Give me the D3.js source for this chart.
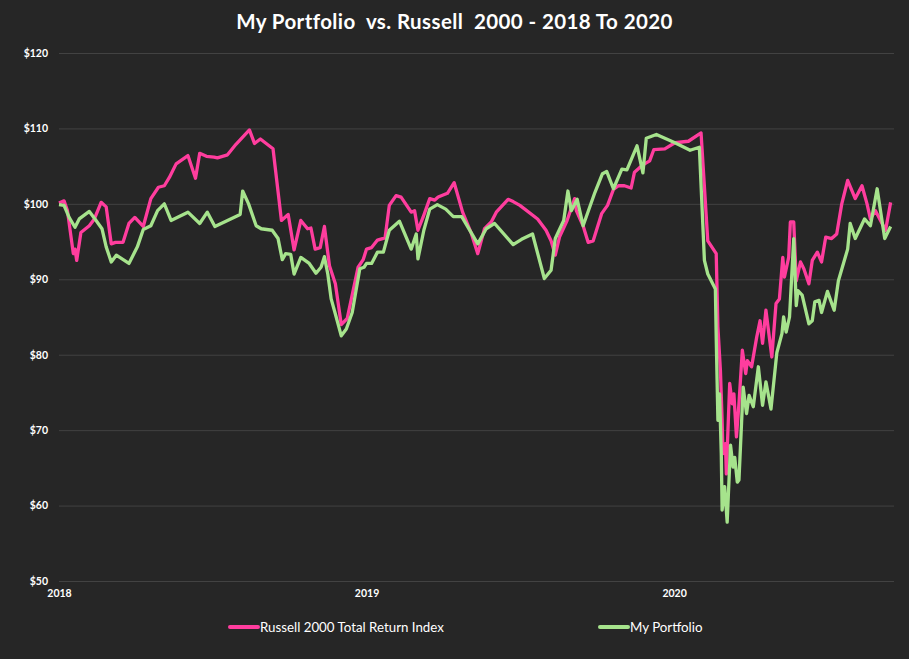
<!DOCTYPE html>
<html>
<head>
<meta charset="utf-8">
<script src="https://cdn.jsdelivr.net/npm/d3@7"></script>
<style>
  body { margin: 0; background: #262626; }
  text { font-family: Lato, "Open Sans", sans-serif; font-weight: bold; fill: #ffffff; }
</style>
</head>
<body>
<div id="chart"></div>
<script>
const SERIES_NAMES = ["Russell 2000 Total Return Index", "My Portfolio"];
const YEAR_TICKS = ["2018-01-01", "2019-01-01", "2020-01-01"];
const VALUE_TICKS = [50, 60, 70, 80, 90, 100, 110, 120];

const RUSSELL = [
  ["2018-01-01", 100.1], ["2018-01-07", 100.4], ["2018-01-11", 99.1], ["2018-01-18", 93.4],
  ["2018-01-20", 94.0], ["2018-01-22", 92.5], ["2018-01-27", 96.2], ["2018-02-06", 97.1],
  ["2018-02-12", 98.0], ["2018-02-20", 100.2], ["2018-02-26", 99.6], ["2018-03-04", 94.7],
  ["2018-03-09", 94.9], ["2018-03-18", 94.9], ["2018-03-25", 97.4], ["2018-04-01", 98.2],
  ["2018-04-11", 97.0], ["2018-04-20", 100.7], ["2018-04-29", 102.2], ["2018-05-06", 102.4],
  ["2018-05-12", 103.5], ["2018-05-20", 105.3], ["2018-06-03", 106.4], ["2018-06-12", 103.4],
  ["2018-06-17", 106.7], ["2018-06-25", 106.3], ["2018-07-04", 106.2], ["2018-07-08", 106.1],
  ["2018-07-20", 106.5], ["2018-07-30", 107.9], ["2018-08-15", 109.8], ["2018-08-21", 108.0],
  ["2018-08-28", 108.6], ["2018-09-12", 107.3], ["2018-09-22", 97.8], ["2018-09-30", 98.6],
  ["2018-10-07", 93.9], ["2018-10-15", 97.8], ["2018-10-23", 96.7], ["2018-10-27", 96.8],
  ["2018-11-01", 94.0], ["2018-11-07", 94.2], ["2018-11-12", 97.0], ["2018-11-18", 91.8],
  ["2018-11-25", 89.4], ["2018-12-02", 84.0], ["2018-12-09", 84.8], ["2018-12-22", 91.6],
  ["2018-12-28", 92.6], ["2019-01-01", 94.0], ["2019-01-07", 94.2], ["2019-01-14", 95.2],
  ["2019-01-23", 95.5], ["2019-01-28", 99.8], ["2019-02-05", 101.1], ["2019-02-11", 100.9],
  ["2019-02-23", 98.9], ["2019-02-27", 99.1], ["2019-03-03", 96.5], ["2019-03-09", 98.2],
  ["2019-03-17", 100.7], ["2019-03-23", 100.5], ["2019-03-27", 100.9], ["2019-04-07", 101.4],
  ["2019-04-15", 102.8], ["2019-04-25", 98.9], ["2019-05-05", 96.2], ["2019-05-13", 93.4],
  ["2019-05-21", 96.7], ["2019-05-29", 97.6], ["2019-06-04", 98.9], ["2019-06-18", 100.6],
  ["2019-06-24", 100.3], ["2019-07-02", 99.8], ["2019-07-23", 98.0], ["2019-08-02", 96.5],
  ["2019-08-08", 95.1], ["2019-08-13", 93.2], ["2019-08-18", 95.6], ["2019-08-27", 97.8],
  ["2019-09-05", 100.7], ["2019-09-07", 99.1], ["2019-09-15", 97.1], ["2019-09-21", 94.9],
  ["2019-09-27", 95.1], ["2019-10-07", 98.7], ["2019-10-14", 99.8], ["2019-10-21", 101.9],
  ["2019-10-27", 102.4], ["2019-11-03", 102.4], ["2019-11-11", 102.1], ["2019-11-15", 104.2],
  ["2019-11-21", 104.8], ["2019-11-27", 105.3], ["2019-12-03", 105.7], ["2019-12-08", 107.2],
  ["2019-12-21", 107.3], ["2020-01-02", 108.1], ["2020-01-18", 108.3], ["2020-02-02", 109.4],
  ["2020-02-10", 95.1], ["2020-02-20", 93.4], ["2020-02-22", 83.7], ["2020-02-25", 77.9],
  ["2020-02-27", 71.3], ["2020-02-28", 66.9], ["2020-03-02", 68.2], ["2020-03-03", 64.2],
  ["2020-03-07", 76.2], ["2020-03-10", 73.5], ["2020-03-12", 74.8], ["2020-03-15", 69.1],
  ["2020-03-18", 73.5], ["2020-03-22", 80.6], ["2020-03-26", 77.5], ["2020-03-28", 79.2],
  ["2020-04-02", 78.4], ["2020-04-08", 82.3], ["2020-04-12", 84.5], ["2020-04-15", 81.5],
  ["2020-04-19", 85.9], ["2020-04-26", 79.7], ["2020-05-01", 86.8], ["2020-05-05", 87.4],
  ["2020-05-09", 92.9], ["2020-05-11", 90.3], ["2020-05-16", 92.9], ["2020-05-18", 97.6],
  ["2020-05-22", 97.6], ["2020-05-25", 89.8], ["2020-05-30", 92.3], ["2020-06-03", 91.4],
  ["2020-06-09", 89.4], ["2020-06-13", 92.5], ["2020-06-19", 93.6], ["2020-06-24", 92.3],
  ["2020-06-29", 95.6], ["2020-07-06", 95.4], ["2020-07-12", 96.0], ["2020-07-18", 100.0],
  ["2020-07-25", 103.1], ["2020-08-03", 100.7], ["2020-08-11", 102.4], ["2020-08-17", 100.0],
  ["2020-08-21", 98.0], ["2020-08-27", 99.1], ["2020-09-08", 96.5], ["2020-09-14", 100.2]
];

const PORTFOLIO = [
  ["2018-01-01", 99.9], ["2018-01-07", 99.8], ["2018-01-13", 98.2], ["2018-01-20", 96.9],
  ["2018-01-25", 98.0], ["2018-02-06", 99.0], ["2018-02-14", 97.8], ["2018-02-21", 96.7],
  ["2018-02-26", 94.3], ["2018-03-04", 92.3], ["2018-03-10", 93.2], ["2018-03-25", 92.1],
  ["2018-04-04", 94.3], ["2018-04-11", 96.6], ["2018-04-20", 97.1], ["2018-04-28", 99.1],
  ["2018-05-06", 100.0], ["2018-05-14", 97.8], ["2018-06-03", 98.9], ["2018-06-17", 97.4],
  ["2018-06-26", 98.9], ["2018-07-05", 97.0], ["2018-08-04", 98.6], ["2018-08-07", 101.7],
  ["2018-08-14", 100.0], ["2018-08-23", 97.1], ["2018-08-29", 96.7], ["2018-09-11", 96.5],
  ["2018-09-18", 95.4], ["2018-09-23", 92.6], ["2018-09-27", 93.4], ["2018-10-03", 93.3],
  ["2018-10-07", 90.7], ["2018-10-15", 92.9], ["2018-10-25", 92.1], ["2018-11-02", 90.8],
  ["2018-11-08", 91.6], ["2018-11-12", 93.0], ["2018-11-16", 90.7], ["2018-11-20", 87.4],
  ["2018-11-25", 85.4], ["2018-12-02", 82.5], ["2018-12-08", 83.4], ["2018-12-15", 85.6],
  ["2018-12-24", 91.4], ["2018-12-29", 91.6], ["2019-01-01", 92.1], ["2019-01-07", 92.1],
  ["2019-01-14", 93.6], ["2019-01-21", 93.6], ["2019-01-28", 96.5], ["2019-02-09", 97.7],
  ["2019-02-23", 94.0], ["2019-03-01", 96.0], ["2019-03-03", 92.7], ["2019-03-10", 96.5],
  ["2019-03-17", 99.3], ["2019-03-26", 99.9], ["2019-04-05", 99.3], ["2019-04-14", 98.3],
  ["2019-04-24", 98.3], ["2019-05-13", 94.7], ["2019-05-23", 96.7], ["2019-06-02", 97.4],
  ["2019-06-24", 94.6], ["2019-07-04", 95.3], ["2019-07-17", 96.0], ["2019-07-31", 90.1],
  ["2019-08-08", 91.2], ["2019-08-13", 95.4], ["2019-08-23", 97.8], ["2019-08-28", 101.7],
  ["2019-09-01", 99.1], ["2019-09-08", 100.6], ["2019-09-15", 97.1], ["2019-09-29", 101.5],
  ["2019-10-08", 104.0], ["2019-10-13", 104.3], ["2019-10-21", 102.0], ["2019-10-31", 104.6],
  ["2019-11-06", 104.5], ["2019-11-18", 107.7], ["2019-11-25", 104.1], ["2019-11-29", 108.7],
  ["2019-12-11", 109.2], ["2020-01-02", 108.1], ["2020-01-20", 107.1], ["2020-01-31", 107.5],
  ["2020-02-06", 92.5], ["2020-02-10", 90.7], ["2020-02-19", 88.7], ["2020-02-20", 82.3],
  ["2020-02-22", 71.3], ["2020-02-24", 74.8], ["2020-02-26", 66.9], ["2020-02-27", 59.4],
  ["2020-03-01", 62.5], ["2020-03-04", 57.8], ["2020-03-08", 68.0], ["2020-03-11", 65.1],
  ["2020-03-13", 66.4], ["2020-03-16", 63.1], ["2020-03-18", 63.4], ["2020-03-23", 75.7],
  ["2020-03-27", 72.2], ["2020-03-30", 74.6], ["2020-04-04", 73.1], ["2020-04-10", 78.4],
  ["2020-04-15", 73.3], ["2020-04-19", 76.4], ["2020-04-25", 72.8], ["2020-05-02", 80.3],
  ["2020-05-08", 82.8], ["2020-05-10", 85.0], ["2020-05-13", 83.0], ["2020-05-17", 85.0],
  ["2020-05-22", 95.4], ["2020-05-25", 86.5], ["2020-05-27", 88.5], ["2020-06-01", 87.9],
  ["2020-06-09", 84.1], ["2020-06-13", 84.5], ["2020-06-16", 87.0], ["2020-06-21", 87.2],
  ["2020-06-24", 85.6], ["2020-07-01", 88.4], ["2020-07-09", 85.9], ["2020-07-14", 89.8],
  ["2020-07-25", 94.0], ["2020-07-28", 97.4], ["2020-08-03", 95.4], ["2020-08-14", 98.0],
  ["2020-08-21", 97.1], ["2020-08-29", 102.0], ["2020-09-07", 95.4], ["2020-09-14", 97.0]
];

const COLORS = ["#ff3d9e", "#a6e38c"];

const WIDTH = 909;
const HEIGHT = 659;
const MARGIN = { TOP: 53, RIGHT: 15, BOTTOM: 78, LEFT: 59 };
const PLOT_W = WIDTH - MARGIN.LEFT - MARGIN.RIGHT;
const PLOT_H = HEIGHT - MARGIN.TOP - MARGIN.BOTTOM;

const PARSE = d3.timeParse("%Y-%m-%d");

const SVG = d3.select("#chart").append("svg")
  .attr("width", WIDTH)
  .attr("height", HEIGHT)
  .style("background", "#262626");

SVG.append("text")
  .attr("x", WIDTH / 2)
  .attr("y", 29)
  .attr("text-anchor", "middle")
  .style("font-size", "20.5px")
  .style("letter-spacing", "0.4px")
  .style("white-space", "pre")
  .text("My Portfolio  vs. Russell  2000 - 2018 To 2020");

const CHART = SVG.append("g")
  .attr("transform", "translate(" + MARGIN.LEFT + ", " + MARGIN.TOP + ")");

const X_SCALE = d3.scaleTime()
  .domain([PARSE("2018-01-01"), PARSE("2020-09-18")])
  .range([0, PLOT_W]);

const Y_SCALE = d3.scaleLinear()
  .domain([50, 120])
  .range([PLOT_H, 0]);

// gridlines + y labels
const Y_AXIS = d3.axisLeft(Y_SCALE)
  .tickValues(VALUE_TICKS)
  .tickSize(-PLOT_W)
  .tickPadding(11)
  .tickFormat((d) => "$" + d);

CHART.append("g")
  .attr("id", "y-axis")
  .call(Y_AXIS)
  .call((g) => g.select(".domain").remove())
  .call((g) => g.selectAll("line").attr("stroke", "#424242").attr("stroke-width", 1))
  .call((g) => g.selectAll("text").style("font-size", "10.5px").attr("fill", "#ffffff"));

const X_AXIS = d3.axisBottom(X_SCALE)
  .tickValues(YEAR_TICKS.map(PARSE))
  .tickSize(0)
  .tickPadding(9)
  .tickFormat(d3.timeFormat("%Y"));

CHART.append("g")
  .attr("id", "x-axis")
  .attr("transform", "translate(0, " + PLOT_H + ")")
  .call(X_AXIS)
  .call((g) => g.select(".domain").remove())
  .call((g) => g.selectAll("text").style("font-size", "10.5px").attr("fill", "#ffffff"));

const LINE = d3.line()
  .x((d) => X_SCALE(PARSE(d[0])))
  .y((d) => Y_SCALE(d[1]));

[RUSSELL, PORTFOLIO].forEach((series, i) => {
  CHART.append("path")
    .datum(series)
    .attr("fill", "none")
    .attr("stroke", COLORS[i])
    .attr("stroke-width", 3.3)
    .attr("stroke-linejoin", "round")
    .attr("d", LINE);
});

// legend
const LEGEND_X = [230, 600];
SERIES_NAMES.forEach((name, i) => {
  const item = SVG.append("g")
    .attr("transform", "translate(" + LEGEND_X[i] + ", 627)");
  item.append("line")
    .attr("x1", 0).attr("x2", 28)
    .attr("stroke", COLORS[i])
    .attr("stroke-width", 4)
    .attr("stroke-linecap", "round");
  item.append("text")
    .attr("x", 30)
    .attr("dy", "0.35em")
    .style("font-size", "13.3px")
    .style("font-weight", "normal")
    .text(name);
});
</script>
</body>
</html>
